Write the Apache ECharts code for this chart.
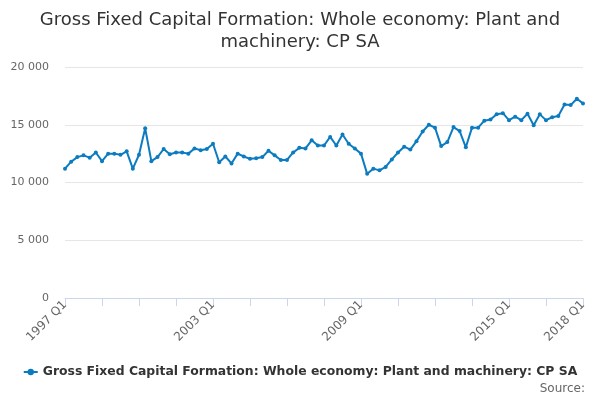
<!DOCTYPE html>
<html>
<head>
<meta charset="utf-8">
<script src="https://cdn.jsdelivr.net/npm/echarts@6/dist/echarts.min.js"></script>
<style>
html, body { margin: 0; padding: 0; background: #fff; }
#chart { width: 600px; height: 400px; }
</style>
</head>
<body>
<div id="chart"></div>
<script>
// quarterly values, 1997 Q1 .. 2018 Q1
var startYear = 1997;
var values = [
	11200, 11800, 12200, 12350, 12150, 12600, 11850, 12500, 12500, 12400,
	12700, 11200, 12400, 14700, 11850, 12200, 12900, 12450, 12600, 12600,
	12500, 12950, 12800, 12900, 13350, 11750, 12250, 11650, 12500, 12250,
	12050, 12100, 12200, 12750, 12350, 11950, 11950, 12600, 13000, 12950,
	13650, 13200, 13200, 13950, 13200, 14150, 13350, 12950, 12500, 10750,
	11200, 11050, 11350, 12000, 12600, 13100, 12850, 13580, 14420, 15000,
	14750, 13150, 13500, 14800, 14450, 13050, 14750, 14750, 15350, 15450,
	15900, 16000, 15400, 15700, 15400, 15950, 14950, 15900, 15400, 15650,
	15750, 16750, 16700, 17250, 16850
];
var categories = [];
for (var i = 0; i < values.length; i++) {
	categories.push((startYear + Math.floor(i / 4)) + ' Q' + (i % 4 + 1));
}
var yTicks = [0, 5000, 10000, 15000, 20000];
var seriesName = 'Gross Fixed Capital Formation: Whole economy: Plant and machinery: CP SA';

var chart = echarts.init(document.getElementById('chart'));
var last = categories.length - 1;
var font = 'DejaVu Sans';

option = {
	animation: false,
	textStyle: { fontFamily: font },
	title: [{
		text: 'Gross Fixed Capital Formation: Whole economy: Plant and\nmachinery: CP SA',
		left: 'center',
		top: 4,
		textStyle: { fontSize: 18, fontWeight: 'normal', color: '#333', lineHeight: 22, fontFamily: font }
	}, {
		text: 'Source:',
		right: 10,
		bottom: 0,
		textStyle: { fontSize: 12, fontWeight: 'normal', color: '#666', fontFamily: font }
	}],
	legend: {
		bottom: 17,
		left: 'center',
		itemWidth: 14,
		itemHeight: 8,
		itemGap: 4,
		textStyle: { fontSize: 12.4, fontWeight: 'bold', color: '#333', fontFamily: font },
		data: [seriesName]
	},
	grid: { left: 65, right: 17, top: 67, bottom: 102 },
	xAxis: {
		type: 'category',
		data: categories,
		boundaryGap: false,
		axisLine: { lineStyle: { color: '#ccd6eb', width: 1 } },
		axisTick: {
			length: 8,
			lineStyle: { color: '#ccd6eb' },
			interval: function(idx) { return idx % 6 === 0; }
		},
		axisLabel: {
			rotate: 45,
			color: '#666',
			fontSize: 12,
			margin: 5,
			fontFamily: font,
			interval: function(idx) { return idx % 24 === 0 || idx === last; }
		},
		splitLine: { show: false }
	},
	yAxis: {
		type: 'value',
		min: yTicks[0],
		max: yTicks[yTicks.length - 1],
		interval: 5000,
		axisLine: { show: false },
		axisTick: { show: false },
		axisLabel: {
			color: '#666',
			fontSize: 11,
			margin: 16,
			fontFamily: font,
			formatter: function(v) { return String(v).replace(/\B(?=(\d{3})+(?!\d))/g, ' '); }
		},
		splitLine: { lineStyle: { color: '#e6e6e6' } }
	},
	series: [{
		name: seriesName,
		type: 'line',
		data: values,
		symbol: 'circle',
		symbolSize: 4,
		itemStyle: { color: '#0c7bc0' },
		lineStyle: { width: 2, color: '#0c7bc0' }
	}]
};
chart.setOption(option);
</script>
</body>
</html>
